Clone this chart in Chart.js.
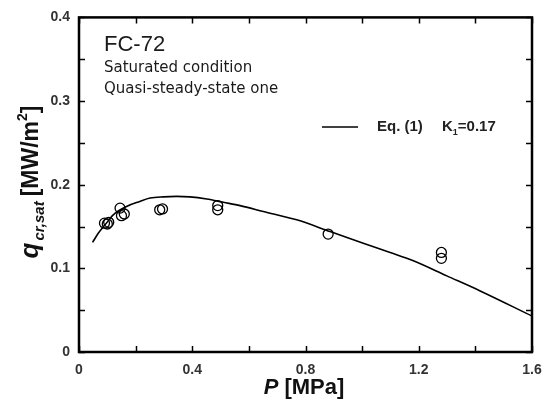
<!DOCTYPE html>
<html>
<head>
<meta charset="utf-8">
<script src="https://cdn.jsdelivr.net/npm/chart.js@4/dist/chart.umd.min.js"></script>
<style>
  html, body { margin: 0; padding: 0; background: #fff; }
  #wrap { width: 555px; height: 400px; }
</style>
</head>
<body>
<div id="wrap"><canvas id="chart" width="555" height="400"></canvas></div>
<script>
// Eq. (1) curve
const curveP = [0.048, 0.068, 0.092, 0.121, 0.168, 0.215, 0.251, 0.298, 0.345, 0.392, 0.451, 0.51, 0.569, 0.651, 0.769, 0.887, 1.004, 1.099, 1.181, 1.299, 1.417, 1.6];
const curveQ = [0.131, 0.142, 0.152, 0.164, 0.174, 0.180, 0.184, 0.1855, 0.186, 0.1855, 0.183, 0.179, 0.175, 0.168, 0.158, 0.144, 0.130, 0.119, 0.109, 0.091, 0.073, 0.043];

// measured points
const expP = [0.09, 0.10, 0.105, 0.145, 0.15, 0.16, 0.285, 0.295, 0.49, 0.49, 0.88, 1.28, 1.28];
const expQ = [0.154, 0.153, 0.155, 0.172, 0.163, 0.165, 0.170, 0.171, 0.175, 0.170, 0.141, 0.119, 0.112];

const xTicks = [0, 0.4, 0.8, 1.2, 1.6];
const yTicks = [0, 0.1, 0.2, 0.3, 0.4];

const toXY = (xs, ys) => xs.map((x, i) => ({ x: x, y: ys[i] }));

// frame, inner ticks and the free texts
const decor = {
    id: "decor",
    afterDatasetsDraw(chart) {
        const { ctx, chartArea: a, scales } = chart;
        const xs = scales.x, ys = scales.y;
        ctx.save();
        ctx.strokeStyle = "#000";

        ctx.lineWidth = 1.5;
        ctx.beginPath();
        for (let v = 0; v <= 1.6001; v += 0.2) {
            const px = Math.round(xs.getPixelForValue(v)) + 0.5;
            ctx.moveTo(px, a.bottom); ctx.lineTo(px, a.bottom - 6);
            ctx.moveTo(px, a.top); ctx.lineTo(px, a.top + 6);
        }
        for (let v = 0; v <= 0.4001; v += 0.05) {
            const py = Math.round(ys.getPixelForValue(v)) + 0.5;
            ctx.moveTo(a.left, py); ctx.lineTo(a.left + 6, py);
            ctx.moveTo(a.right, py); ctx.lineTo(a.right - 6, py);
        }
        ctx.stroke();

        ctx.lineWidth = 2.5;
        ctx.strokeRect(a.left, a.top, a.right - a.left, a.bottom - a.top);

        // texts inside the plot
        ctx.fillStyle = "#1a1a1a";
        ctx.textBaseline = "middle";
        ctx.textAlign = "left";
        ctx.font = "22px 'Liberation Sans', Arial";
        ctx.fillText("FC-72", 104, 45);
        ctx.font = "15px 'DejaVu Sans'";
        ctx.fillText("Saturated condition", 104, 68);
        ctx.fillText("Quasi-steady-state one", 104, 89);

        // legend
        ctx.lineWidth = 1.5;
        ctx.beginPath();
        ctx.moveTo(322, 127); ctx.lineTo(358, 127);
        ctx.stroke();
        ctx.fillStyle = "#222";
        ctx.font = "bold 15px 'Liberation Sans', Arial";
        ctx.fillText("Eq. (1)", 377, 127);
        ctx.fillText("K", 442, 127);
        let kx = 442 + ctx.measureText("K").width;
        ctx.font = "bold 9px 'Liberation Sans', Arial";
        ctx.fillText("1", kx, 133);
        kx += ctx.measureText("1").width;
        ctx.font = "bold 15px 'Liberation Sans', Arial";
        ctx.fillText("=0.17", kx, 127);

        // x title
        ctx.fillStyle = "#111";
        ctx.textBaseline = "alphabetic";
        ctx.font = "italic bold 22px 'Liberation Sans', Arial";
        const pW = ctx.measureText("P").width;
        ctx.font = "bold 22px 'Liberation Sans', Arial";
        const restW = ctx.measureText(" [MPa]").width;
        let tx = 304 - (pW + restW) / 2;
        ctx.font = "italic bold 22px 'Liberation Sans', Arial";
        ctx.fillText("P", tx, 394);
        ctx.font = "bold 22px 'Liberation Sans', Arial";
        ctx.fillText(" [MPa]", tx + pW, 394);

        // y title, rotated
        ctx.translate(38, 182);
        ctx.rotate(-Math.PI / 2);
        const parts = [
            ["italic bold 26px 'Liberation Sans', Arial", "q", 0, 2],
            ["italic bold 15px 'Liberation Sans', Arial", "cr,sat", 6, 5],
            ["bold 23px 'Liberation Sans', Arial", "[MW/m", 0, 0],
            ["bold 14px 'Liberation Sans', Arial", "2", -11, 0],
            ["bold 23px 'Liberation Sans', Arial", "]", 0, 0],
        ];
        let total = 0;
        parts.forEach(p => { ctx.font = p[0]; total += ctx.measureText(p[1]).width + p[3]; });
        let cx = -total / 2;
        parts.forEach(p => {
            ctx.font = p[0];
            ctx.fillText(p[1], cx, p[2]);
            cx += ctx.measureText(p[1]).width + p[3];
        });
        ctx.restore();
    }
};

new Chart(document.getElementById("chart"), {
    type: "scatter",
    data: {
        datasets: [
            {
                label: "Eq. (1)",
                data: toXY(curveP, curveQ),
                showLine: true,
                borderColor: "#000",
                borderWidth: 1.6,
                pointRadius: 0,
                cubicInterpolationMode: "monotone",
                fill: false,
            },
            {
                label: "data",
                data: toXY(expP, expQ),
                showLine: false,
                pointStyle: "circle",
                pointRadius: 5,
                pointBorderWidth: 1.3,
                pointBorderColor: "#000",
                pointBackgroundColor: "rgba(0,0,0,0)",
            },
        ],
    },
    options: {
        responsive: false,
        animation: false,
        layout: { padding: { left: 0, right: 23, top: 14, bottom: 0 } },
        plugins: {
            legend: { display: false },
            tooltip: { enabled: false },
        },
        scales: {
            x: {
                type: "linear",
                min: 0,
                max: 1.6,
                afterFit: (s) => { s.height = 48; },
                afterBuildTicks: (s) => { s.ticks = xTicks.map(v => ({ value: v })); },
                grid: { display: false, drawTicks: false },
                border: { display: false },
                ticks: {
                    padding: 10,
                    color: "#333",
                    font: { family: "'Liberation Sans', Arial", size: 14, weight: "bold" },
                    callback: (v) => (v === 0 ? "0" : v.toFixed(1)),
                },
            },
            y: {
                type: "linear",
                min: 0,
                max: 0.4,
                afterFit: (s) => { s.width = 79; },
                afterBuildTicks: (s) => { s.ticks = yTicks.map(v => ({ value: v })); },
                grid: { display: false, drawTicks: false },
                border: { display: false },
                ticks: {
                    padding: 9,
                    color: "#333",
                    font: { family: "'Liberation Sans', Arial", size: 14, weight: "bold" },
                    callback: (v) => (v === 0 ? "0" : v.toFixed(1)),
                },
            },
        },
    },
    plugins: [decor],
});
</script>
</body>
</html>
